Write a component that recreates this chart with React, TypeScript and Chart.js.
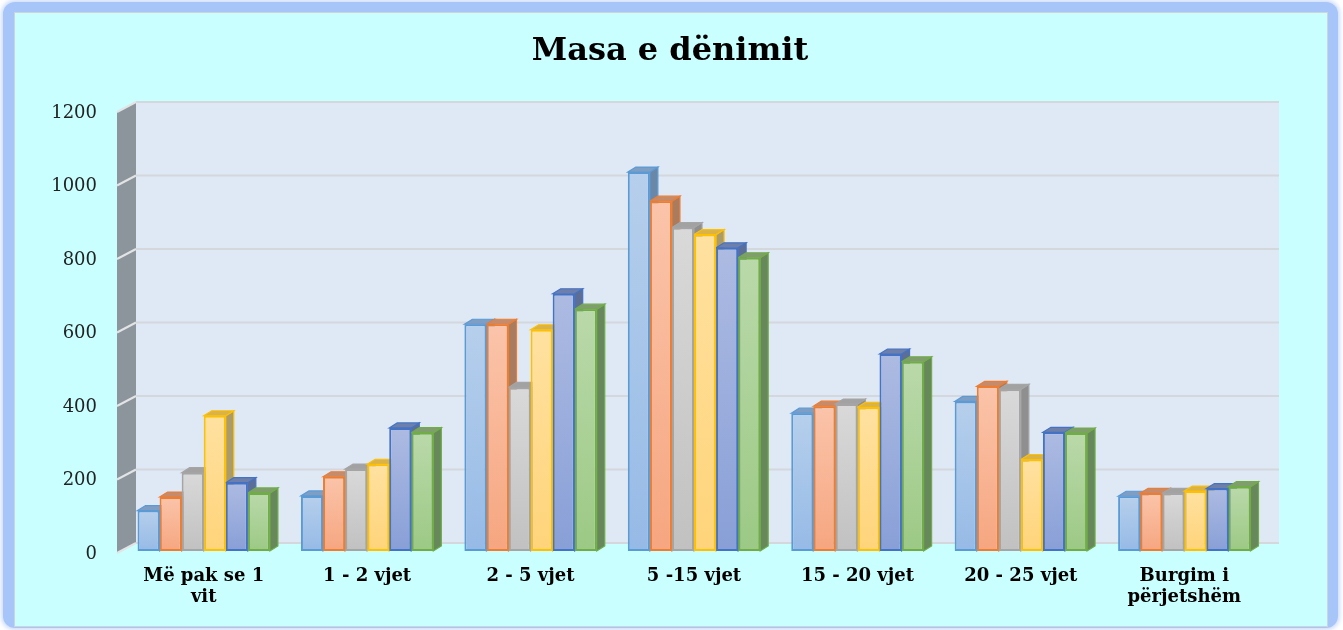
import React, { useEffect, useRef } from 'react';
import { Chart, registerables } from 'chart.js';

Chart.register(...registerables);

const TITLE = 'Masa e dënimit';
const CATEGORIES: (string | string[])[] = [
  ['Më pak se 1', 'vit'],
  '1 - 2 vjet',
  '2 - 5 vjet',
  '5 -15 vjet',
  '15 - 20 vjet',
  '20 - 25 vjet',
  ['Burgim i', 'përjetshëm'],
];
const SERIES_NAMES = ['Seria 1', 'Seria 2', 'Seria 3', 'Seria 4', 'Seria 5', 'Seria 6'];
const SERIES_1 = [110, 150, 617, 1031, 375, 407, 149];
const SERIES_2 = [147, 202, 617, 952, 394, 448, 157];
const SERIES_3 = [213, 223, 445, 880, 400, 440, 157];
const SERIES_4 = [368, 236, 602, 861, 391, 249, 163];
const SERIES_5 = [186, 335, 700, 825, 536, 323, 170];
const SERIES_6 = [158, 322, 658, 798, 515, 321, 175];
const SERIES = [SERIES_1, SERIES_2, SERIES_3, SERIES_4, SERIES_5, SERIES_6];
const Y_TICKS = [0, 200, 400, 600, 800, 1000, 1200];

const STYLES = [
  { border: '#5b9bd5', top: '#b6cfec', bottom: '#96bae6', lid: '#7f9ec4', side: '#6a87a8' },
  { border: '#ed7d31', top: '#fbc4aa', bottom: '#f6a680', lid: '#c48c6c', side: '#a97b5f' },
  { border: '#a5a5a5', top: '#d9d9d9', bottom: '#c1c1c1', lid: '#a2a2a2', side: '#8f8f8f' },
  { border: '#ffc000', top: '#ffe1a0', bottom: '#ffd47a', lid: '#d9b24a', side: '#a99b6c' },
  { border: '#4472c4', top: '#adbbe2', bottom: '#889fd7', lid: '#6e80aa', side: '#5c6e96' },
  { border: '#70ad47', top: '#bad9aa', bottom: '#9cc985', lid: '#809e6d', side: '#67885a' },
];

const DX = 8;
const DY = 5;

const wallsPlugin = {
  id: 'walls3d',
  beforeDatasetsDraw(chart: any) {
    const { ctx, chartArea, scales } = chart;
    const ys = scales.y;
    const { left, right } = chartArea;
    const fx = left - 5;
    const bx = left + 14;
    const brx = right + 13;
    const yF = (v: number) => ys.getPixelForValue(v) + 2;
    const yB = (v: number) => ys.getPixelForValue(v) - 8;
    const maxV = Y_TICKS[Y_TICKS.length - 1];
    ctx.save();
    ctx.fillStyle = '#dfe9f6';
    ctx.fillRect(bx, yB(maxV), brx - bx, yB(0) - yB(maxV));
    ctx.strokeStyle = '#d4d8dc';
    ctx.lineWidth = 2;
    Y_TICKS.forEach((v) => {
      ctx.beginPath();
      ctx.moveTo(bx, yB(v));
      ctx.lineTo(brx, yB(v));
      ctx.stroke();
    });
    ctx.fillStyle = '#8d959c';
    ctx.beginPath();
    ctx.moveTo(fx, yF(maxV));
    ctx.lineTo(bx, yB(maxV));
    ctx.lineTo(bx, yB(0));
    ctx.lineTo(fx, yF(0));
    ctx.closePath();
    ctx.fill();
    ctx.strokeStyle = '#e2e4e6';
    ctx.lineWidth = 2;
    Y_TICKS.forEach((v) => {
      ctx.beginPath();
      ctx.moveTo(fx, yF(v));
      ctx.lineTo(bx, yB(v));
      ctx.stroke();
    });
    const n = chart.data.labels.length;
    for (let j = 0; j < n; j++) {
      for (let i = 0; i < chart.data.datasets.length; i++) {
        const meta = chart.getDatasetMeta(i);
        const el = meta.data[j];
        if (!el) continue;
        const { x, y, base, width } = el.getProps(['x', 'y', 'base', 'width'], true);
        const L = x - width / 2;
        const R = x + width / 2;
        const st = STYLES[i];
        ctx.lineWidth = 1.2;
        ctx.strokeStyle = st.border;
        ctx.fillStyle = st.side;
        ctx.beginPath();
        ctx.moveTo(R, y);
        ctx.lineTo(R + DX, y - DY);
        ctx.lineTo(R + DX, base - DY);
        ctx.lineTo(R, base);
        ctx.closePath();
        ctx.fill();
        ctx.stroke();
        ctx.fillStyle = st.lid;
        ctx.beginPath();
        ctx.moveTo(L, y);
        ctx.lineTo(L + DX, y - DY);
        ctx.lineTo(R + DX, y - DY);
        ctx.lineTo(R, y);
        ctx.closePath();
        ctx.fill();
        ctx.stroke();
      }
    }
    ctx.restore();
  },
  afterDraw(chart: any) {
    const { ctx } = chart;
    ctx.save();
    ctx.font = 'bold 32px "DejaVu Serif"';
    ctx.fillStyle = '#000000';
    ctx.textAlign = 'center';
    ctx.textBaseline = 'alphabetic';
    ctx.fillText(TITLE, 670, 60);
    ctx.restore();
  },
};

export default function App() {
  const ref = useRef<HTMLCanvasElement | null>(null);
  useEffect(() => {
    if (!ref.current) return;
    const chart = new Chart(ref.current, {
      type: 'bar',
      data: {
        labels: CATEGORIES,
        datasets: SERIES.map((values, i) => {
          const st = STYLES[i];
          return {
            label: SERIES_NAMES[i],
            data: values,
            borderColor: st.border,
            borderWidth: 2,
            borderSkipped: false,
            backgroundColor: (c: any) => {
              const chart = c.chart;
              if (!chart.chartArea || c.raw === undefined) return st.bottom;
              const ys = chart.scales.y;
              const yt = ys.getPixelForValue(c.raw);
              const yb = ys.getPixelForValue(0);
              if (!isFinite(yt) || !isFinite(yb) || yt === yb) return st.bottom;
              const g = chart.ctx.createLinearGradient(0, yt, 0, yb);
              g.addColorStop(0, st.top);
              g.addColorStop(1, st.bottom);
              return g;
            },
            categoryPercentage: 0.81,
            barPercentage: 1.0,
          };
        }),
      },
      options: {
        responsive: false,
        animation: false,
        devicePixelRatio: 1,
        layout: { padding: { top: 110, right: 77, bottom: 0, left: 0 } },
        plugins: {
          legend: { display: false },
          title: { display: false },
          tooltip: { enabled: false },
        },
        scales: {
          x: {
            grid: { display: false, drawTicks: false },
            border: { display: false },
            ticks: {
              padding: 15,
              color: '#000000',
              font: { family: '"DejaVu Serif"', size: 18, weight: 'bold', lineHeight: 1.15 },
              maxRotation: 0,
              autoSkip: false,
            },
            afterFit: (s: any) => {
              s.height = 79;
            },
          },
          y: {
            min: 0,
            max: 1200,
            grid: { display: false, drawTicks: false },
            border: { display: false },
            ticks: {
              stepSize: 200,
              padding: 25,
              labelOffset: 3,
              color: '#222222',
              font: { family: '"DejaVu Serif"', size: 18 },
              callback: (v: any) => String(v),
            },
            afterFit: (s: any) => {
              s.width = 122;
            },
          },
        },
      },
      plugins: [wallsPlugin],
    } as any);
    return () => chart.destroy();
  }, []);

  return (
    <div style={{ position: 'fixed', left: 0, top: 0, width: 1343, height: 630, background: '#ffffff', overflow: 'hidden' }}>
      <div
        style={{
          position: 'absolute',
          left: 3,
          top: 2,
          width: 1335,
          height: 626,
          borderRadius: 12,
          background: '#a8c5fa',
          boxShadow: '0 0 4px 2px #cddcfb',
        }}
      />
      <div
        style={{
          position: 'absolute',
          left: 14,
          top: 12,
          width: 1312,
          height: 613,
          background: '#caffff',
          border: '1px solid #cfd4d8',
        }}
      />
      <canvas ref={ref} width={1343} height={630} style={{ position: 'absolute', left: 0, top: 0, display: 'block' }} />
    </div>
  );
}
